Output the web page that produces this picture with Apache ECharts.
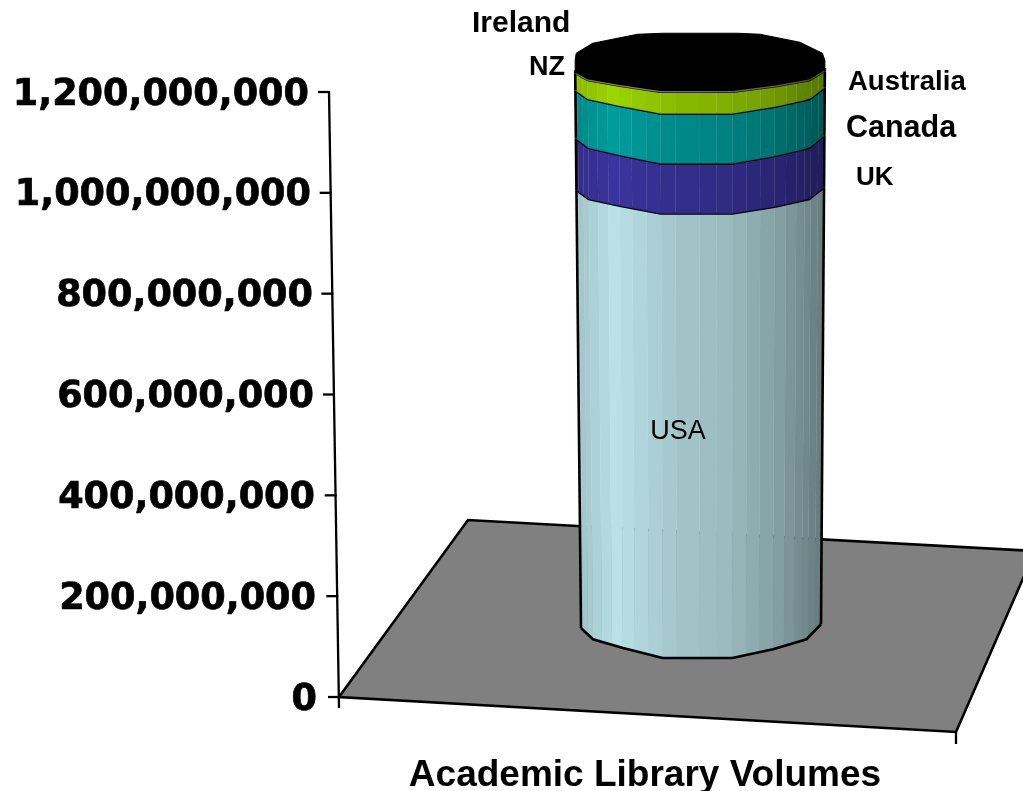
<!DOCTYPE html>
<html>
<head>
<meta charset="utf-8">
<style>html,body{margin:0;padding:0;background:#fff}#c{width:1023px;height:791px}</style>
<script src="https://cdn.jsdelivr.net/npm/echarts@6/dist/echarts.min.js"></script>
</head>
<body>
<div id="c"></div>
<script>
// ---- data ----
const categories = ['Academic Library Volumes'];
const seriesNames = ['USA', 'UK', 'Canada', 'Australia', 'NZ', 'Ireland'];
const volumes = [912000000, 108000000, 100000000, 35000000, 4000000, 3000000];
const tickValues = [0, 200000000, 400000000, 600000000, 800000000, 1000000000, 1200000000];
const axisMax = 1200000000;

// ---- style ----
const baseColors = [[185,225,230],[58,52,158],[0,156,156],[156,212,0],[128,128,128],[0,0,0]];
const rimDepth = [0.97, 1.04, 0.96, 0.78, 0.78, 0.78];
const rimWidth = [2.6, 2.6, 2.6, 1.2, 1.2, 1];
const labelStyles = [
  {dx:-22, dy:22, align:'center', size:27, weight:'normal'},
  {dx:156, dy:14, align:'left', size:26, weight:'bold'},
  {dx:146, dy:14, align:'left', size:30.5, weight:'bold'},
  {dx:148, dy:0,  align:'left', size:27.5, weight:'bold'},
  {dx:-171,dy:-5, align:'left', size:27, weight:'bold'},
  {dx:-228,dy:-47,align:'left', size:30, weight:'bold'}
];
const rimProfile = [[0,0],[.05,9],[.175,16],[.34,24],[.63,24],[.8,17],[.94,9],[1,-3]];
const capBack = [[1,-10],[.99,-17],[.9,-28],[.74,-36],[.65,-37],[.35,-37],[.25,-36],[.07,-27],[.004,-17],[0,-10]];
const shadeKeys = [[0,.87],[.15,1],[.4,.88],[.6,.83],[.8,.72],[1,.55]];
const facetPx = [0,2,7,12,21,31,42,54,68,82,96,119,136,151,165,178,192,203,213,221,227,234,240];
const facets = facetPx.map(p => p / 240);

function interp(keys, u) {
  for (let i = 1; i < keys.length; i++) {
    if (u <= keys[i][0]) {
      const a = keys[i-1], b = keys[i];
      return a[1] + (b[1]-a[1]) * (u-a[0]) / (b[0]-a[0]);
    }
  }
  return keys[keys.length-1][1];
}

function rimPoint(api, u, v, depth) {
  const c = api.coord([0, v]);
  const w = api.size([1, 0])[0] * (0.96 + 0.04 * v / axisMax);
  const shift = 1 - v / axisMax;
  return [c[0] + shift + (u - 0.5) * w, c[1] + interp(rimProfile, u) * depth];
}

// cumulative stack
const stacked = [];
volumes.reduce((s, v, i) => { stacked.push([0, s, s + v, i]); return s + v; }, 0);

function renderLayer(params, api) {
  const lo = api.value(1), hi = api.value(2), i = api.value(3);
  const loDepth = i === 0 ? 1.25 : rimDepth[i-1];
  const hiDepth = rimDepth[i];
  const children = [];
  const col = baseColors[i];
  for (let k = 0; k + 1 < facets.length; k++) {
    const u0 = facets[k], u1 = facets[k+1], m = interp(shadeKeys, (u0+u1)/2);
    const fill = 'rgb(' + col.map(c => Math.round(c*m)).join(',') + ')';
    children.push({
      type: 'polygon',
      shape: {points: [rimPoint(api,u0,lo,loDepth), rimPoint(api,u1,lo,loDepth), rimPoint(api,u1,hi,hiDepth), rimPoint(api,u0,hi,hiDepth)]},
      style: {fill, stroke: fill, lineWidth: 0.3}
    });
  }
  const stroke = {stroke:'#000', fill:'none', lineWidth:rimWidth[i]};
  const keyU = rimProfile.map(p => p[0]);
  children.push({type:'polyline', shape:{points:keyU.map(u => rimPoint(api,u,hi,hiDepth))}, style:stroke});
  if (i === 0) {
    children.push({type:'polyline', shape:{points:keyU.map(u => rimPoint(api,u,lo,loDepth))}, style:{stroke:'#000',fill:'none',lineWidth:2.6}});
  }
  [0,1].forEach(u => children.push({type:'line',
    shape:{x1:rimPoint(api,u,lo,loDepth)[0], y1:rimPoint(api,u,lo,loDepth)[1], x2:rimPoint(api,u,hi,hiDepth)[0], y2:rimPoint(api,u,hi,hiDepth)[1]},
    style:{stroke:'#000', lineWidth:2.6}}));
  if (i === seriesNames.length - 1) {
    const front = keyU.map(u => rimPoint(api,u,hi,hiDepth));
    const back = capBack.map(k => { const p = rimPoint(api,k[0],hi,0); return [p[0], p[1]+k[1]]; });
    children.push({type:'polygon', shape:{points:front.concat(back)}, style:{fill:'#000', stroke:'#000', lineWidth:1}});
  }
  const c = api.coord([0,(lo+hi)/2]), s = labelStyles[i];
  children.push({type:'text', z2:50, style:{x:c[0]+s.dx, y:c[1]+s.dy, text:seriesNames[i], align:s.align, verticalAlign:'middle',
    fill:'#000', font:s.weight+' '+s.size+'px "Liberation Sans", Arial, sans-serif'}});
  return {type:'group', children};
}

function gridOrigin(api) {
  const c = api.coord([0,0]);
  return [c[0] - api.size([1,0])[0] / 2, c[1]];
}

function renderFloor(params, api) {
  const o = gridOrigin(api);
  const pts = [[0,0],[129,-177],[696,-146],[617,35]].map(p => [o[0]+p[0], o[1]+p[1]]);
  return {type:'polygon', shape:{points:pts}, style:{fill:'#808080', stroke:'#000', lineWidth:2.6}};
}

function renderAxis(params, api) {
  const children = [];
  const bottom = gridOrigin(api);
  const top = api.coord([0, axisMax]);
  const sl = (y) => bottom[0] - (bottom[1] - y) * 10 / 605;
  children.push({type:'line', shape:{x1:sl(top[1]), y1:top[1]-1, x2:bottom[0], y2:bottom[1]+11}, style:{stroke:'#000',lineWidth:2.3}});
  tickValues.forEach(v => {
    const y = api.coord([0, v])[1], x = sl(y);
    children.push({type:'line', shape:{x1:x-11, y1:y, x2:v === axisMax ? x : x+1, y2:y}, style:{stroke:'#000',lineWidth:2.3}});
  });
  children.push({type:'line', shape:{x1:bottom[0]+617, y1:bottom[1]+35, x2:bottom[0]+617, y2:bottom[1]+47}, style:{stroke:'#000',lineWidth:2.3}});
  return {type:'group', children};
}

const labelPad = {0:0, 200000000:1, 400000000:2, 600000000:3, 800000000:4, 1000000000:6, 1200000000:8};
const rich = {};
Object.values(labelPad).forEach(p => { rich['p'+p] = {fontFamily:'"DejaVu Sans", Verdana, sans-serif', fontWeight:'bold', fontSize:36.6, color:'#000', textBorderColor:'#000', textBorderWidth:0.7, padding:[6,p,0,0]}; });

const chart = echarts.init(document.getElementById('c'), null, {renderer:'canvas'});
chart.setOption({
  animation:false,
  backgroundColor:'#fff',
  grid:[
    {left:339, width:612, top:92, height:605, outerBoundsMode:'none'},
    {left:575, width:250, top:52, height:576, outerBoundsMode:'none'}
  ],
  xAxis:[
    {gridIndex:0, type:'category', data:categories, axisLine:{show:false}, axisTick:{show:false},
     axisLabel:{margin:60, color:'#000', fontFamily:'"Liberation Sans", Arial, sans-serif', fontWeight:'bold', fontSize:37}},
    {gridIndex:1, type:'category', data:categories, show:false}
  ],
  yAxis:[
    {gridIndex:0, type:'value', min:0, max:axisMax, interval:200000000, splitLine:{show:false}, axisLine:{show:false}, axisTick:{show:false},
     axisLabel:{margin:22, formatter:v => '{p'+labelPad[v]+'|'+v.toLocaleString('en-US')+'}', rich}},
    {gridIndex:1, type:'value', min:0, max:axisMax, show:false}
  ],
  series:[
    {type:'custom', name:'floor', xAxisIndex:0, yAxisIndex:0, silent:true, z:1, renderItem:renderFloor, data:[[0,0]]},
    {type:'custom', name:'axis', xAxisIndex:0, yAxisIndex:0, silent:true, z:2, renderItem:renderAxis, data:[[0,0]]}
  ].concat(seriesNames.map((n,i) => ({
    type:'custom', name:n, xAxisIndex:1, yAxisIndex:1, silent:true, z:3+i, renderItem:renderLayer, data:[stacked[i]], encode:{x:0,y:[1,2]}
  })))
});
</script>
</body>
</html>
